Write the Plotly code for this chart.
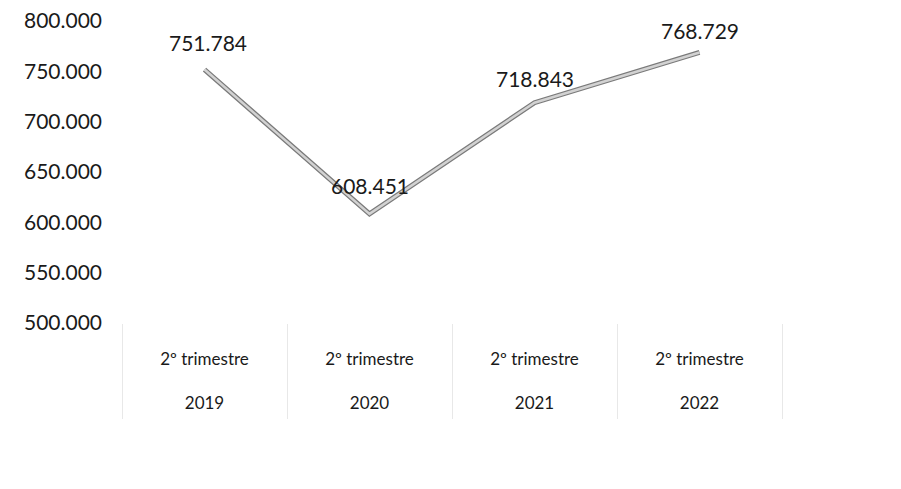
import plotly.graph_objects as go

categories = ["2º trimestre<br><br>2019", "2º trimestre<br><br>2020",
              "2º trimestre<br><br>2021", "2º trimestre<br><br>2022"]
values = [751784, 608451, 718843, 768729]
value_labels = ["751.784", "608.451", "718.843", "768.729"]
y_ticks = [500000, 550000, 600000, 650000, 700000, 750000, 800000]
y_tick_labels = ["500.000", "550.000", "600.000", "650.000", "700.000", "750.000", "800.000"]

FONT = "Lato"
fig = go.Figure()
# outer darker stroke
fig.add_trace(go.Scatter(x=categories, y=values, mode="lines",
                         line=dict(color="#7a7a7a", width=5),
                         hoverinfo="skip", showlegend=False))
# inner light stroke
fig.add_trace(go.Scatter(x=categories, y=values, mode="lines",
                         line=dict(color="#d2d2d2", width=2.5),
                         showlegend=False))

label_yshift = [27, 28, 24, 22]
label_xshift = [3, 0, 0, 0]
for c, v, t, ys, xs in zip(categories, values, value_labels, label_yshift, label_xshift):
    fig.add_annotation(x=c, y=v, text=t, showarrow=False, yshift=ys, xshift=xs,
                       font=dict(family=FONT, size=21, color="#1a1a1a"))

fig.update_layout(
    width=901, height=489,
    margin=dict(l=114, r=127, t=13, b=174),
    paper_bgcolor="white", plot_bgcolor="white",
    font=dict(family=FONT, size=17, color="#1a1a1a"),
)
fig.update_xaxes(type="category", range=[-0.5, 3.5], showgrid=False, zeroline=False,
                 showline=False, tickson="boundaries", ticks="outside", ticklen=95,
                 tickcolor="#e8e8e8", tickwidth=1, ticklabelstandoff=24, automargin=False,
                 tickfont=dict(family=FONT, size=17, color="#1a1a1a"))
fig.update_yaxes(range=[500000, 800000], tickvals=y_ticks, ticktext=y_tick_labels,
                 showgrid=False, zeroline=False, showline=False, ticks="",
                 ticklabelstandoff=19, automargin=False, ticklabeloverflow="allow",
                 tickfont=dict(family=FONT, size=21, color="#1a1a1a"))

fig.write_html("out.html")
